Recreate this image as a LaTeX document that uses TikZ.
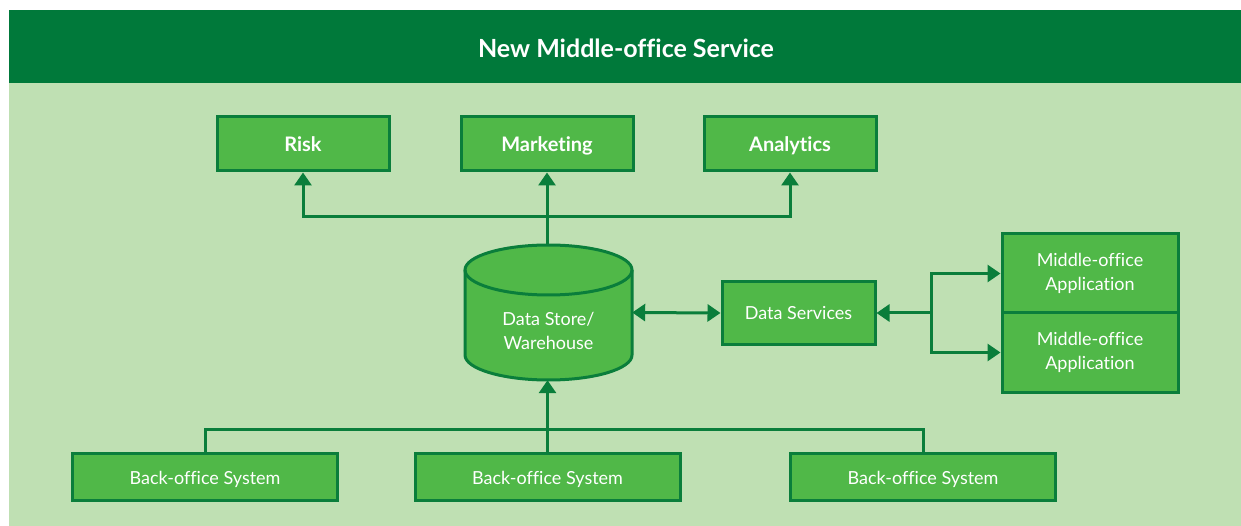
\documentclass[tikz,border=0pt]{standalone}
\usepackage{fontspec}
\setmainfont{Lato}[Ligatures=NoCommon]
\usetikzlibrary{arrows.meta}
\definecolor{hdr}{HTML}{00793A}
\definecolor{panel}{HTML}{BFE0B3}
\definecolor{boxfill}{HTML}{50B848}
\definecolor{edge}{HTML}{0A7E3B}
\tikzset{
  box/.style={draw=edge, line width=3pt, fill=boxfill, text=white, inner sep=0pt, align=center},
  tbox/.style={box, minimum width=172pt, minimum height=54pt, text height=17pt, text depth=1pt,
    font=\fontsize{20}{22}\selectfont\bfseries},
  bbox/.style={box, minimum width=265pt, minimum height=47pt, text height=16pt, text depth=1pt,
    font=\fontsize{18}{22}\selectfont},
  mbox/.style={box, minimum width=176pt, minimum height=79pt, font=\fontsize{18}{24}\selectfont},
  link/.style={draw=edge, line width=3pt},
  arr/.style={link, -{Triangle[width=17pt,length=13pt]}},
  arrs/.style={link, {Triangle[width=17pt,length=13pt]}-{Triangle[width=17pt,length=13pt]}},
}
\begin{document}
\begin{tikzpicture}[x=1pt, y=-1pt]
  \useasboundingbox (0,0) rectangle (1241,526);
  % panel and header
  \fill[white] (0,0) rectangle (1241,526);
  \fill[panel] (9,83) rectangle (1241,526);
  \fill[hdr] (9,10) rectangle (1241,83);
  \node[text=white, font=\fontsize{25}{30}\selectfont\bfseries] (title) at (626,48) {New Middle-office Service};

  % top consumers
  \node[tbox] (risk) at (303,144) {Risk};
  \node[tbox] (mkt)  at (547,144) {Marketing};
  \node[tbox] (ana)  at (790,144) {Analytics};

  % data store cylinder (y axis points down, so arcs run the other way)
  \fill[boxfill] (465,270) -- (465,355) arc[start angle=180, end angle=0, x radius=83.5, y radius=25]
        -- (632,270) arc[start angle=0, end angle=-180, x radius=83.5, y radius=25] -- cycle;
  \draw[edge, line width=3pt] (465,270) -- (465,355) arc[start angle=180, end angle=0, x radius=83.5, y radius=25]
        -- (632,270);
  \draw[edge, line width=3pt] (548.5,270) ellipse[x radius=83.5, y radius=25];
  \node[minimum width=167pt, minimum height=135pt, inner sep=0pt] (store) at (548.5,312.5) {};
  \node[text=white, align=center, font=\fontsize{18}{24}\selectfont] (storetext) at (548.5,331) {Data Store/\\Warehouse};

  % data services and applications
  \node[box, minimum width=153pt, minimum height=62pt, text height=15pt, text depth=2pt,
        font=\fontsize{18}{22}\selectfont] (dsv) at (798.5,313) {Data Services};
  \node[mbox] (m1) at (1090,273.5) {Middle-office\\Application};
  \node[mbox] (m2) at (1090,352.5) {Middle-office\\Application};

  % back-office sources
  \node[bbox] (bo1) at (205,477) {Back-office System};
  \node[bbox] (bo2) at (547.5,477) {Back-office System};
  \node[bbox] (bo3) at (923,477) {Back-office System};

  % connectors
  \coordinate (split) at (547,217);
  \draw[arr] (store.north -| mkt.south) -- (mkt.south);
  \draw[arr] (split) -| (risk.south);
  \draw[arr] (split) -| (ana.south);

  \draw[arrs] (store.east) -- (dsv.west);
  \coordinate (fork) at (931,313);
  \draw[arr] (fork) -- (dsv.east);
  \draw[arr] (fork) |- (m1.west);
  \draw[arr] (fork) |- (m2.west);

  \coordinate (merge) at (547,429);
  \draw[link] (bo1.north) |- (merge) -| (bo3.north);
  \draw[arr] (bo2.north) -- (store.south -| bo2.north);
\end{tikzpicture}
\end{document}
